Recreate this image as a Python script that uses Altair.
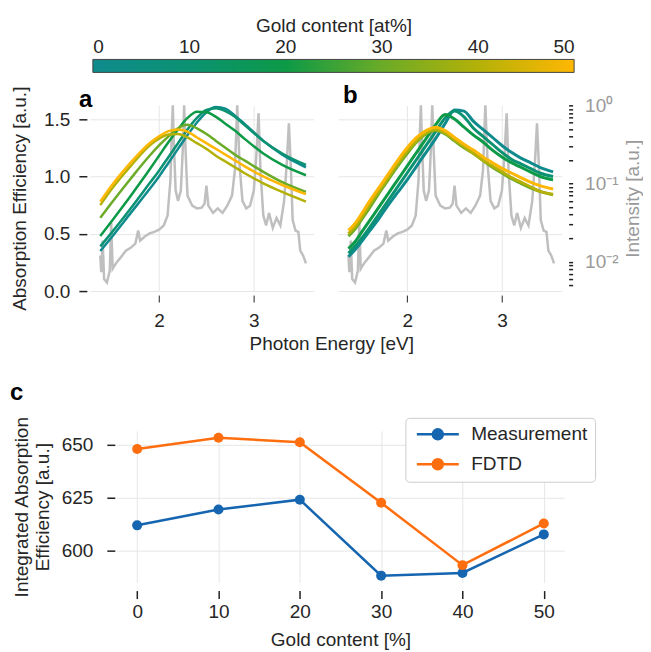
import altair as alt
import pandas as pd

# ---------------- data ----------------
GOLD = [0, 10, 20, 30, 40, 50]
CMAP = ["#0f8b8d", "#0b9272", "#0c9a47", "#6aab27", "#b3b108", "#ffb703"]
CB_TICKS = [0, 10, 20, 30, 40, 50]

# panel a (simulated absorption efficiency)
EV_A = [1.38, 1.5, 1.7, 1.9, 2.0, 2.1, 2.2, 2.3, 2.4, 2.5, 2.6, 2.7, 2.8, 2.9, 3.1, 3.3, 3.55]
A_0 = [0.35, 0.47, 0.68, 0.89, 1.00, 1.12, 1.24, 1.36, 1.47, 1.56, 1.605, 1.59, 1.53, 1.46, 1.31, 1.19, 1.08]
A_10 = [0.39, 0.51, 0.72, 0.94, 1.05, 1.17, 1.29, 1.41, 1.51, 1.58, 1.595, 1.57, 1.52, 1.45, 1.31, 1.20, 1.10]
A_20 = [0.48, 0.61, 0.83, 1.06, 1.18, 1.30, 1.41, 1.51, 1.565, 1.56, 1.52, 1.46, 1.40, 1.33, 1.20, 1.10, 1.01]
A_30 = [0.64, 0.77, 0.98, 1.18, 1.27, 1.35, 1.42, 1.45, 1.42, 1.37, 1.31, 1.25, 1.19, 1.14, 1.04, 0.95, 0.865]
A_40 = [0.75, 0.89, 1.09, 1.27, 1.33, 1.365, 1.37, 1.34, 1.29, 1.24, 1.18, 1.13, 1.08, 1.03, 0.94, 0.865, 0.78]
A_50 = [0.78, 0.92, 1.12, 1.29, 1.35, 1.395, 1.41, 1.39, 1.34, 1.29, 1.24, 1.19, 1.14, 1.09, 1.00, 0.925, 0.845]

# panel b (measured absorption efficiency)
EV_B = [1.38, 1.45, 1.5, 1.6, 1.7, 1.8, 1.9, 2.0, 2.1, 2.2, 2.3, 2.4, 2.5, 2.6, 2.7, 2.8, 2.9, 3.0, 3.1, 3.2, 3.3, 3.4, 3.54]
B_0 = [0.30, 0.36, 0.41, 0.52, 0.63, 0.75, 0.86, 0.97, 1.09, 1.21, 1.33, 1.46, 1.58, 1.57, 1.48, 1.41, 1.34, 1.27, 1.21, 1.16, 1.12, 1.08, 1.04]
B_10 = [0.33, 0.39, 0.44, 0.55, 0.67, 0.79, 0.91, 1.03, 1.15, 1.27, 1.39, 1.51, 1.57, 1.52, 1.42, 1.35, 1.28, 1.21, 1.15, 1.11, 1.07, 1.03, 1.00]
B_20 = [0.37, 0.43, 0.49, 0.61, 0.73, 0.85, 0.97, 1.09, 1.21, 1.33, 1.45, 1.54, 1.50, 1.43, 1.36, 1.30, 1.23, 1.17, 1.12, 1.08, 1.04, 1.00, 0.97]
B_30 = [0.48, 0.54, 0.60, 0.72, 0.85, 0.97, 1.09, 1.20, 1.30, 1.37, 1.40, 1.37, 1.31, 1.25, 1.20, 1.14, 1.08, 1.03, 0.98, 0.94, 0.90, 0.87, 0.84]
B_40 = [0.50, 0.56, 0.62, 0.75, 0.87, 0.99, 1.11, 1.22, 1.31, 1.38, 1.41, 1.38, 1.32, 1.26, 1.20, 1.14, 1.09, 1.04, 0.99, 0.95, 0.91, 0.87, 0.845]
B_50 = [0.53, 0.59, 0.65, 0.78, 0.90, 1.02, 1.14, 1.25, 1.34, 1.40, 1.43, 1.40, 1.34, 1.28, 1.23, 1.17, 1.12, 1.07, 1.03, 0.99, 0.95, 0.92, 0.89]

# lamp spectrum (grey, log intensity axis)
LAMP_EV = [1.38, 1.39, 1.405, 1.42, 1.45, 1.48, 1.495, 1.51, 1.55, 1.6,
           1.65, 1.7, 1.75, 1.78, 1.8, 1.85, 1.9, 1.95, 2.0, 2.05,
           2.09, 2.12, 2.135, 2.145, 2.155, 2.175, 2.2, 2.23, 2.25, 2.265,
           2.28, 2.3, 2.35, 2.4, 2.45, 2.48, 2.5, 2.52, 2.57, 2.62,
           2.67, 2.72, 2.77, 2.8, 2.825, 2.85, 2.88, 2.92, 2.96, 3.0,
           3.03, 3.05, 3.07, 3.1, 3.13, 3.16, 3.2, 3.24, 3.28, 3.32,
           3.35, 3.37, 3.39, 3.41, 3.44, 3.47, 3.49, 3.52, 3.55]
LAMP_I = [0.012, 0.0073, 0.0186, 0.006, 0.0054, 0.0077, 0.0316, 0.0081, 0.0097, 0.0115,
          0.0138, 0.015, 0.017, 0.025, 0.0186, 0.021, 0.023, 0.024, 0.0257, 0.029,
          0.039, 0.11, 0.48, 1.0, 0.36, 0.081, 0.060, 0.081, 0.265, 1.0,
          0.265, 0.070, 0.052, 0.048, 0.049, 0.055, 0.094, 0.052, 0.042, 0.048,
          0.042, 0.052, 0.07, 0.147, 1.0, 0.17, 0.06, 0.048, 0.052, 0.081,
          0.265, 0.79, 0.147, 0.039, 0.029, 0.042, 0.027, 0.036, 0.029, 0.06,
          0.20, 0.59, 0.17, 0.034, 0.025, 0.024, 0.0138, 0.012, 0.0095]
LOG_TICKS = [0.005, 0.006, 0.007, 0.008, 0.009,
             0.01, 0.02, 0.03, 0.04, 0.05, 0.06, 0.07, 0.08, 0.09,
             0.1, 0.2, 0.3, 0.4, 0.5, 0.6, 0.7, 0.8, 0.9, 1.0]

# panel c
C_GOLD = [0, 10, 20, 30, 40, 50]
C_MEAS = [611.8, 619.3, 624.0, 587.9, 589.2, 607.5]
C_FDTD = [648.1, 653.4, 651.3, 622.5, 592.9, 612.7]
SERIES = ["Measurement", "FDTD"]
SERIES_COLORS = ["#1565b0", "#ff6e0e"]

# ---------------- tables ----------------
def long_table(ev, curves):
    rows = []
    for g, vals in zip(GOLD, curves):
        for e, v in zip(ev, vals):
            rows.append({"ev": e, "value": v, "gold": g})
    return pd.DataFrame(rows)

a_df = long_table(EV_A, [A_0, A_10, A_20, A_30, A_40, A_50])
b_df = long_table(EV_B, [B_0, B_10, B_20, B_30, B_40, B_50])
lamp_df = pd.DataFrame({"ev": LAMP_EV, "intensity": LAMP_I})
c_df = pd.DataFrame(
    [{"gold": g, "value": v, "series": SERIES[0]} for g, v in zip(C_GOLD, C_MEAS)]
    + [{"gold": g, "value": v, "series": SERIES[1]} for g, v in zip(C_GOLD, C_FDTD)]
)
cb_df = pd.DataFrame({"lo": [CB_TICKS[0]], "hi": [CB_TICKS[-1]]})

FONT = "Liberation Sans"
TXT = "#262626"
GREY_TXT = "#9a9a9a"
FS = 19

# ---------------- colour bar ----------------
grad = alt.Gradient(
    gradient="linear",
    stops=[alt.GradientStop(color=c, offset=g / 50) for g, c in zip(GOLD, CMAP)],
    x1=0, x2=1, y1=0, y2=0,
)
colorbar = alt.Chart(cb_df).mark_rect(fill=grad, stroke="#444444", strokeWidth=1).encode(
    x=alt.X("lo:Q", scale=alt.Scale(domain=[0, 50], nice=False),
            axis=alt.Axis(orient="top", values=CB_TICKS, ticks=False, domain=False, grid=False,
                          labelPadding=3, title="Gold content [at%]", titlePadding=2)),
    x2="hi:Q",
).properties(width=482, height=13)

def spacer(w):
    return alt.Chart(pd.DataFrame({"s": [0]})).mark_point(size=1, opacity=0).properties(width=w, height=1)

# ---------------- panels a / b ----------------
x_axis = alt.Axis(values=[2, 3], tickSize=7, offset=4, grid=True, labelPadding=9, title=None, format="d")
x_scale = alt.Scale(domain=[1.27, 3.63], nice=False)
lin_scale = alt.Scale(domain=[0, 1.62], nice=False)
log_scale = alt.Scale(type="log", domain=[0.0042, 1.0], nice=False)
gold_color = alt.Color("gold:Q", scale=alt.Scale(domain=GOLD, range=CMAP), legend=None)

def panel(df, label, label_dx, label_dy, show_left, show_right, sw):
    gray = alt.Chart(lamp_df).mark_line(color="#bfbfbf", strokeWidth=2.5).encode(
        x=alt.X("ev:Q", scale=x_scale, axis=x_axis),
        y=alt.Y("intensity:Q", scale=log_scale,
                axis=alt.Axis(orient="right", values=LOG_TICKS, tickSize=4, tickWidth=1.5,
                              tickColor="#222222", offset=7, grid=False, labelPadding=12,
                              labelColor=GREY_TXT, titleColor=GREY_TXT,
                              labelExpr="abs(datum.value-1)<1e-9 ? '10⁰' : abs(datum.value-0.1)<1e-9 ? '10⁻¹' : abs(datum.value-0.01)<1e-9 ? '10⁻²' : ''",
                              title="Intensity [a.u.]", titleAngle=270, titlePadding=25)
                if show_right else None),
    )
    if show_left:
        yaxis = alt.Axis(orient="left", values=[0, 0.5, 1.0, 1.5], format=".1f", tickSize=8, tickWidth=1.5,
                         offset=3, grid=True, labelPadding=9,
                         title="Absorption Efficiency [a.u.]", titlePadding=14)
    else:
        yaxis = alt.Axis(orient="left", values=[0, 0.5, 1.0, 1.5], labels=False, ticks=False,
                         domain=False, grid=True, title=None)
    curves = alt.Chart(df).mark_line(strokeWidth=sw, interpolate="monotone").encode(
        x=alt.X("ev:Q", scale=x_scale, axis=x_axis),
        y=alt.Y("value:Q", scale=lin_scale, axis=yaxis),
        color=gold_color,
        detail="gold:N",
    )
    return alt.layer(gray, curves).resolve_scale(y="independent").properties(
        width=224, height=186,
        title=alt.TitleParams(label, anchor="start", frame="group", fontSize=24, fontWeight="bold",
                              color="black", dx=label_dx, dy=label_dy, offset=0),
    )

panel_a = panel(a_df, "a", -11, 26, True, False, 2.5)
panel_b = panel(b_df, "b", 5, 12, False, True, 3)

# ---------------- panel c ----------------
LEGEND_PATH = ("M-4.2,0L4.2,0"
               "M1,0A1,1 0 1,1 -1,0A1,1 0 1,1 1,0"
               "M0.55,0A0.55,0.55 0 1,1 -0.55,0A0.55,0.55 0 1,1 0.55,0"
               "M0.15,0A0.15,0.15 0 1,1 -0.15,0A0.15,0.15 0 1,1 0.15,0")
panel_c = alt.Chart(c_df).mark_line(strokeWidth=2.5, point=alt.OverlayMarkDef(filled=True, size=100)).encode(
    x=alt.X("gold:Q", scale=alt.Scale(domain=[-2.5, 52.5], nice=False),
            axis=alt.Axis(values=C_GOLD, tickSize=8, tickWidth=1.5, offset=8, grid=True,
                          labelPadding=4, title="Gold content [%]", titlePadding=9)),
    y=alt.Y("value:Q", scale=alt.Scale(domain=[584.6, 656.7], nice=False, zero=False),
            axis=alt.Axis(values=[600, 625, 650], tickSize=8, tickWidth=1.5, offset=2, grid=True,
                          labelPadding=14, title=["Integrated Absorption", "Efficiency [a.u.]"],
                          titlePadding=9, titleLineHeight=21)),
    color=alt.Color("series:N", scale=alt.Scale(domain=SERIES, range=SERIES_COLORS),
                    legend=alt.Legend(title=None, orient="none", legendX=316, legendY=-13,
                                      symbolType=LEGEND_PATH, symbolSize=100, symbolStrokeWidth=2.5,
                                      symbolOffset=16, labelOffset=24, padding=7, rowPadding=9,
                                      strokeColor="#cccccc", fillColor="white", cornerRadius=4,
                                      labelFontSize=FS, labelColor=TXT, labelFont=FONT)),
    order="gold:Q",
).properties(
    width=448, height=152,
    title=alt.TitleParams("c", anchor="start", frame="group", fontSize=24, fontWeight="bold",
                          color="black", dx=-107, offset=11),
)

# ---------------- layout ----------------
row1 = alt.hconcat(spacer(1), colorbar, spacing=2, bounds="flush")
row2 = alt.hconcat(panel_a, panel_b, spacing=24.5).properties(
    title=alt.TitleParams("Photon Energy [eV]", orient="bottom", anchor="middle", frame="bounds",
                          fontSize=FS, fontWeight="normal", color=TXT, offset=5, dx=5)
)
row3 = alt.hconcat(spacer(27), panel_c, spacing=0, bounds="flush")
inner = alt.vconcat(row1, row2, spacing=11)
chart = alt.vconcat(inner, row3, spacing=27).properties(
    padding={"left": 2, "top": 8, "right": 0, "bottom": 0}
).configure(font=FONT).configure_view(stroke=None).configure_axis(
    labelFontSize=FS, titleFontSize=FS, labelColor=TXT, titleColor=TXT, tickColor="#222222",
    gridColor="#e6e6e6", gridWidth=1, domain=False, titleFontWeight="normal", labelFont=FONT, titleFont=FONT,
)

chart.save("out.html", embed_options={"renderer": "svg", "actions": False})
